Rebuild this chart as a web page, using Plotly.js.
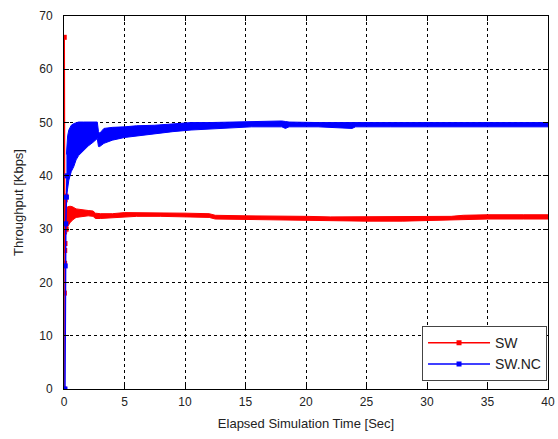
<!DOCTYPE html>
<html>
<head>
<meta charset="utf-8">
<script src="https://cdn.plot.ly/plotly-3.0.1.min.js"></script>
<style>html,body{margin:0;padding:0;background:#fff}#chart{width:558px;height:439px}</style>
</head>
<body>
<div id="chart"></div>
<script>
// ---- SW (red) : initial transient points ----
const swStartT = [0.0, 0.02, 0.03, 0.05, 0.06, 0.08, 0.1, 0.15, 0.18, 0.2];
const swStartV = [0.0, 66.0, 18.0, 23.6, 26.0, 27.3, 35.5, 36.2, 30.0, 33.0];
// ---- SW (red) : oscillation band envelope ----
const swT     = [0.2, 0.3, 0.5, 0.7, 1.0, 1.5, 2.0, 2.4, 2.6, 3.0, 4.0, 5.0, 6.0, 8.0, 10.0, 12.0, 12.5, 15.0, 18.0, 20.0, 22.0, 25.0, 28.0, 30.0, 32.0, 33.0, 35.0, 38.0, 40.0];
const swUpper = [33.5, 34.2, 34.3, 34.2, 33.8, 33.6, 33.5, 33.4, 33.0, 32.9, 32.9, 33.1, 33.1, 33.0, 33.0, 32.9, 32.6, 32.5, 32.5, 32.4, 32.3, 32.3, 32.3, 32.3, 32.4, 32.6, 32.7, 32.7, 32.7];
const swLower = [29.0, 30.5, 31.2, 31.7, 32.2, 32.4, 32.5, 32.4, 32.0, 32.0, 32.1, 32.3, 32.4, 32.4, 32.3, 32.2, 31.9, 31.8, 31.7, 31.6, 31.5, 31.5, 31.5, 31.6, 31.7, 31.8, 31.9, 31.9, 31.9];
// ---- SW.NC (blue) : initial transient points ----
const ncStartT = [0.08, 0.1, 0.15, 0.2, 0.25];
const ncStartV = [0.0, 23.1, 31.0, 36.0, 40.0];
// ---- SW.NC (blue) : oscillation band envelope ----
const ncT     = [0.2, 0.3, 0.4, 0.5, 0.6, 0.8, 1.0, 1.2, 1.6, 2.0, 2.4, 2.75, 2.85, 2.95, 3.3, 4.0, 5.0, 6.0, 7.5, 9.0, 10.5, 12.0, 14.0, 15.5, 18.0, 18.3, 18.6, 21.0, 23.8, 24.1, 27.0, 30.0, 33.0, 36.0, 40.0];
const ncUpper = [44.0, 47.5, 48.6, 49.2, 49.5, 49.8, 50.0, 50.1, 50.1, 50.1, 50.1, 50.1, 48.3, 48.0, 48.9, 49.1, 49.2, 49.4, 49.5, 49.7, 50.0, 50.0, 50.1, 50.3, 50.3, 50.2, 50.1, 50.0, 50.0, 50.0, 50.0, 50.0, 50.0, 50.0, 50.0];
const ncLower = [36.0, 38.0, 39.2, 40.0, 40.8, 41.7, 43.0, 43.8, 44.8, 45.6, 46.3, 47.0, 45.5, 45.5, 46.1, 46.7, 47.2, 47.5, 47.9, 48.3, 48.6, 48.8, 49.0, 49.2, 49.2, 48.9, 49.2, 49.2, 48.9, 49.2, 49.2, 49.2, 49.2, 49.2, 49.2];

const xTicks = [0, 5, 10, 15, 20, 25, 30, 35, 40];
const yTicks = [0, 10, 20, 30, 40, 50, 60, 70];

const RED = '#ff0000', BLUE = '#0000ff';
const band = (x, y, color, fill) => ({
  x: x, y: y, type: 'scatter', mode: 'lines', showlegend: false, hoverinfo: 'skip',
  line: {color: color, width: 1}, fill: fill ? 'tonexty' : 'none', fillcolor: color
});

const data = [
  band(ncT, ncLower, BLUE, false),
  band(ncT, ncUpper, BLUE, true),
  band(swT, swLower, RED, false),
  band(swT, swUpper, RED, true),
  {x: swStartT, y: swStartV, type: 'scatter', mode: 'lines+markers', name: 'SW',
   line: {color: RED, width: 1.5}, marker: {color: RED, size: 5, symbol: 'square'}},
  {x: ncStartT, y: ncStartV, type: 'scatter', mode: 'lines+markers', name: 'SW.NC',
   line: {color: BLUE, width: 1.5}, marker: {color: BLUE, size: 5, symbol: 'square'}}
];

const axisCommon = {
  showline: true, linecolor: '#000', linewidth: 1, mirror: 'allticks',
  ticks: 'inside', ticklen: 5, tickcolor: '#000',
  showgrid: true, gridcolor: '#000', gridwidth: 1, griddash: '3px,3px',
  zeroline: false, tickfont: {family: 'Liberation Sans, Arial, sans-serif', size: 12, color: '#222'}
};

const layout = {
  width: 558, height: 439,
  margin: {l: 63.5, r: 10, t: 16, b: 50},
  paper_bgcolor: '#fff', plot_bgcolor: '#fff',
  font: {family: 'Liberation Sans, Arial, sans-serif', size: 12, color: '#222'},
  xaxis: Object.assign({}, axisCommon, {
    range: [0, 40], tickmode: 'array', tickvals: xTicks, ticktext: xTicks.map(String),
    ticklabelstandoff: 2,
    title: {text: 'Elapsed Simulation Time [Sec]', font: {size: 13, color: '#222'}, standoff: 10}
  }),
  yaxis: Object.assign({}, axisCommon, {
    range: [0, 70], tickmode: 'array', tickvals: yTicks, ticktext: yTicks.map(String),
    ticklabelstandoff: 8,
    title: {text: 'Throughput [Kbps]', font: {size: 13, color: '#222'}, standoff: 12}
  }),
  legend: {
    x: 0.998, y: 0.021, xanchor: 'right', yanchor: 'bottom', traceorder: 'normal',
    bgcolor: '#fff', bordercolor: '#444', borderwidth: 1,
    font: {size: 14, color: '#222'}, itemwidth: 62, entrywidth: 85
  },
  showlegend: true
};

Plotly.newPlot('chart', data, layout, {displayModeBar: false, staticPlot: true});
</script>
</body>
</html>
